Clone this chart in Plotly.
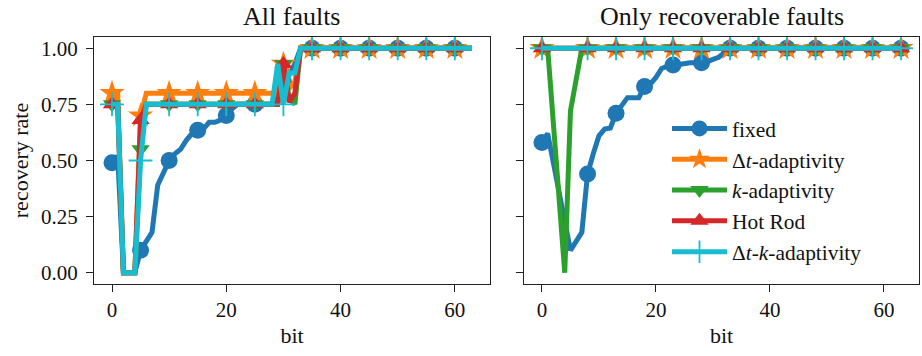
import plotly.graph_objects as go
from plotly.subplots import make_subplots

# ---- data ----
bits_all = list(range(64))
bits_rec = [0, 1, 4, 5, 7, 8, 9, 10, 11, 12, 13, 14, 15, 16, 17, 18, 19, 20, 21, 22,
            23, 24, 25, 26, 27, 28, 29, 30, 31, 32, 33, 34, 35, 36, 37, 38, 39, 40, 41, 42,
            43, 44, 45, 46, 47, 48, 49, 50, 51, 52, 53, 54, 55, 56, 57, 58, 59, 60, 61, 62, 63]

series_names = ["fixed", "Δ<i>t</i>-adaptivity", "<i>k</i>-adaptivity", "Hot Rod", "Δ<i>t</i>-<i>k</i>-adaptivity"]

all_fixed = [0.49, 0.52, 0.00, 0.00, 0.00, 0.10, 0.14, 0.18, 0.39, 0.45,
             0.50, 0.53, 0.55, 0.59, 0.62, 0.635, 0.64, 0.67, 0.67, 0.68,
             0.70, 0.73, 0.75, 0.75, 0.75, 0.75, 0.75, 0.75, 0.75, 0.78,
             0.85, 0.88, 0.93, 1.00, 1.00, 1.00, 1.00, 1.00, 1.00, 1.00,
             1.00, 1.00, 1.00, 1.00, 1.00, 1.00, 1.00, 1.00, 1.00, 1.00,
             1.00, 1.00, 1.00, 1.00, 1.00, 1.00, 1.00, 1.00, 1.00, 1.00,
             1.00, 1.00, 1.00, 1.00]
all_dt = [0.80, 0.80, 0.00, 0.00, 0.00, 0.70, 0.80, 0.80, 0.80, 0.80,
          0.80, 0.80, 0.80, 0.80, 0.80, 0.80, 0.80, 0.80, 0.80, 0.80,
          0.80, 0.80, 0.80, 0.80, 0.80, 0.80, 0.80, 0.80, 0.80, 0.80,
          0.93, 0.82, 0.85, 1.00, 1.00, 1.00, 1.00, 1.00, 1.00, 1.00,
          1.00, 1.00, 1.00, 1.00, 1.00, 1.00, 1.00, 1.00, 1.00, 1.00,
          1.00, 1.00, 1.00, 1.00, 1.00, 1.00, 1.00, 1.00, 1.00, 1.00,
          1.00, 1.00, 1.00, 1.00]
all_k = [0.75, 0.75, 0.00, 0.00, 0.00, 0.55, 0.75, 0.75, 0.75, 0.75,
         0.75, 0.75, 0.75, 0.75, 0.75, 0.75, 0.75, 0.75, 0.75, 0.75,
         0.75, 0.75, 0.75, 0.75, 0.75, 0.75, 0.75, 0.75, 0.75, 0.75,
         0.93, 0.78, 0.75, 1.00, 1.00, 1.00, 1.00, 1.00, 1.00, 1.00,
         1.00, 1.00, 1.00, 1.00, 1.00, 1.00, 1.00, 1.00, 1.00, 1.00,
         1.00, 1.00, 1.00, 1.00, 1.00, 1.00, 1.00, 1.00, 1.00, 1.00,
         1.00, 1.00, 1.00, 1.00]
all_hot = [0.75, 0.75, 0.00, 0.00, 0.00, 0.68, 0.75, 0.75, 0.75, 0.75,
           0.75, 0.75, 0.75, 0.75, 0.75, 0.75, 0.75, 0.75, 0.75, 0.75,
           0.75, 0.75, 0.75, 0.75, 0.75, 0.75, 0.75, 0.75, 0.75, 0.75,
           0.93, 0.76, 0.80, 1.00, 1.00, 1.00, 1.00, 1.00, 1.00, 1.00,
           1.00, 1.00, 1.00, 1.00, 1.00, 1.00, 1.00, 1.00, 1.00, 1.00,
           1.00, 1.00, 1.00, 1.00, 1.00, 1.00, 1.00, 1.00, 1.00, 1.00,
           1.00, 1.00, 1.00, 1.00]
all_dtk = [0.75, 0.75, 0.00, 0.00, 0.00, 0.50, 0.75, 0.75, 0.75, 0.75,
           0.75, 0.75, 0.75, 0.75, 0.75, 0.75, 0.75, 0.75, 0.75, 0.75,
           0.75, 0.75, 0.75, 0.75, 0.75, 0.75, 0.75, 0.75, 0.75, 0.93,
           0.75, 0.89, 0.89, 1.00, 1.00, 1.00, 1.00, 1.00, 1.00, 1.00,
           1.00, 1.00, 1.00, 1.00, 1.00, 1.00, 1.00, 1.00, 1.00, 1.00,
           1.00, 1.00, 1.00, 1.00, 1.00, 1.00, 1.00, 1.00, 1.00, 1.00,
           1.00, 1.00, 1.00, 1.00]

rec_fixed = [0.58, 0.62, 0.23, 0.10, 0.18, 0.44, 0.53, 0.61, 0.64, 0.645,
             0.71, 0.75, 0.78, 0.78, 0.78, 0.83, 0.84, 0.87, 0.91, 0.92,
             0.925, 0.93, 0.935, 0.935, 0.935, 0.935, 0.94, 0.95, 0.96, 0.98,
             1.00, 1.00, 1.00, 1.00, 1.00, 1.00, 1.00, 1.00, 1.00, 1.00,
             1.00, 1.00, 1.00, 1.00, 1.00, 1.00, 1.00, 1.00, 1.00, 1.00,
             1.00, 1.00, 1.00, 1.00, 1.00, 1.00, 1.00, 1.00, 1.00, 1.00,
             1.00]
rec_dt = [1.00, 1.00, 1.00, 1.00, 1.00, 1.00, 1.00, 1.00, 1.00, 1.00,
          1.00, 1.00, 1.00, 1.00, 1.00, 1.00, 1.00, 1.00, 1.00, 1.00,
          1.00, 1.00, 1.00, 1.00, 1.00, 1.00, 1.00, 1.00, 1.00, 1.00,
          1.00, 1.00, 1.00, 1.00, 1.00, 1.00, 1.00, 1.00, 1.00, 1.00,
          1.00, 1.00, 1.00, 1.00, 1.00, 1.00, 1.00, 1.00, 1.00, 1.00,
          1.00, 1.00, 1.00, 1.00, 1.00, 1.00, 1.00, 1.00, 1.00, 1.00,
          1.00]
rec_k = [1.00, 1.00, 0.00, 0.72, 1.00, 1.00, 1.00, 1.00, 1.00, 1.00,
         1.00, 1.00, 1.00, 1.00, 1.00, 1.00, 1.00, 1.00, 1.00, 1.00,
         1.00, 1.00, 1.00, 1.00, 1.00, 1.00, 1.00, 1.00, 1.00, 1.00,
         1.00, 1.00, 1.00, 1.00, 1.00, 1.00, 1.00, 1.00, 1.00, 1.00,
         1.00, 1.00, 1.00, 1.00, 1.00, 1.00, 1.00, 1.00, 1.00, 1.00,
         1.00, 1.00, 1.00, 1.00, 1.00, 1.00, 1.00, 1.00, 1.00, 1.00,
         1.00]
rec_hot = [1.00, 1.00, 1.00, 1.00, 1.00, 1.00, 1.00, 1.00, 1.00, 1.00,
           1.00, 1.00, 1.00, 1.00, 1.00, 1.00, 1.00, 1.00, 1.00, 1.00,
           1.00, 1.00, 1.00, 1.00, 1.00, 1.00, 1.00, 1.00, 1.00, 1.00,
           1.00, 1.00, 1.00, 1.00, 1.00, 1.00, 1.00, 1.00, 1.00, 1.00,
           1.00, 1.00, 1.00, 1.00, 1.00, 1.00, 1.00, 1.00, 1.00, 1.00,
           1.00, 1.00, 1.00, 1.00, 1.00, 1.00, 1.00, 1.00, 1.00, 1.00,
           1.00]
rec_dtk = [1.00, 1.00, 1.00, 1.00, 1.00, 1.00, 1.00, 1.00, 1.00, 1.00,
           1.00, 1.00, 1.00, 1.00, 1.00, 1.00, 1.00, 1.00, 1.00, 1.00,
           1.00, 1.00, 1.00, 1.00, 1.00, 1.00, 1.00, 1.00, 1.00, 1.00,
           1.00, 1.00, 1.00, 1.00, 1.00, 1.00, 1.00, 1.00, 1.00, 1.00,
           1.00, 1.00, 1.00, 1.00, 1.00, 1.00, 1.00, 1.00, 1.00, 1.00,
           1.00, 1.00, 1.00, 1.00, 1.00, 1.00, 1.00, 1.00, 1.00, 1.00,
           1.00]

x_ticks = [0, 20, 40, 60]
y_ticks = [0.0, 0.25, 0.5, 0.75, 1.0]

# ---- style ----
colors = ["#1f77b4", "#ff7f0e", "#2ca02c", "#d62728", "#17becf"]
symbols = ["circle", "star", "triangle-down", "triangle-up", "cross-thin"]
msizes = [17, 19, 16, 16, 17]
FONT = "Liberation Serif, Times New Roman, serif"
W, H = 922, 356

fig = make_subplots(rows=1, cols=2, shared_yaxes=True)

panels = [(1, bits_all, [all_fixed, all_dt, all_k, all_hot, all_dtk]),
          (2, bits_rec, [rec_fixed, rec_dt, rec_k, rec_hot, rec_dtk])]

for col, xs, ys_list in panels:
    for i, ys in enumerate(ys_list):
        # markers on every 5th point, like markevery=5
        sizes = [msizes[i] if j % 5 == 0 else 0 for j in range(len(xs))]
        fig.add_trace(go.Scatter(
            x=xs, y=ys, mode="lines+markers", showlegend=False,
            line=dict(color=colors[i], width=5),
            marker=dict(symbol=symbols[i], size=sizes, color=colors[i], opacity=1,
                        line=dict(color=colors[i], width=1.8 if i == 4 else 0)),
        ), row=1, col=col)

# legend-only entries
for i, name in enumerate(series_names):
    fig.add_trace(go.Scatter(
        x=[None], y=[None], mode="lines+markers", name=name, legendgroup=str(i),
        line=dict(color=colors[i], width=5),
        marker=dict(symbol=symbols[i], size=msizes[i], color=colors[i],
                    line=dict(color=colors[i], width=1.8 if i == 4 else 0)),
    ), row=1, col=2)

ax_common = dict(showline=True, mirror=True, linecolor="#222", linewidth=1.2,
                 ticks="outside", ticklen=7, tickwidth=1.2, tickcolor="#222",
                 showgrid=False, zeroline=False,
                 tickfont=dict(family=FONT, size=21, color="#111"))

y0, y1 = 1 - 284 / H, 1 - 37 / H
fig.update_layout(
    width=W, height=H, margin=dict(l=0, r=0, t=0, b=0),
    paper_bgcolor="white", plot_bgcolor="white",
    font=dict(family=FONT, size=21, color="#111"),
    xaxis=dict(domain=[94 / W, 490 / W], range=[-3.15, 66.15], tickvals=x_ticks,
               title=dict(text="bit", font=dict(size=22), standoff=6), **ax_common),
    xaxis2=dict(domain=[524 / W, 919 / W], range=[-3.15, 66.15], tickvals=x_ticks,
                title=dict(text="bit", font=dict(size=22), standoff=6), **ax_common),
    yaxis=dict(domain=[y0, y1], range=[-0.05, 1.05], tickvals=y_ticks, tickformat=".2f",
               ticklabelstandoff=4,
               title=dict(text="recovery rate", font=dict(size=22), standoff=6), **ax_common),
    yaxis2=dict(domain=[y0, y1], range=[-0.05, 1.05], tickvals=y_ticks,
                showticklabels=False, **ax_common),
    legend=dict(x=667 / W, y=1 - 108 / H, xanchor="left", yanchor="top",
                bgcolor="rgba(255,255,255,0.8)", borderwidth=0,
                font=dict(family=FONT, size=21.4, color="#111"),
                tracegroupgap=0, itemwidth=55),
    annotations=[
        dict(text="All faults", x=(94 + 490) / 2 / W, y=1 - 17 / H, xref="paper", yref="paper",
             xanchor="center", yanchor="middle", showarrow=False,
             font=dict(family=FONT, size=26, color="#111")),
        dict(text="Only recoverable faults", x=(524 + 919) / 2 / W, y=1 - 17 / H,
             xref="paper", yref="paper", xanchor="center", yanchor="middle", showarrow=False,
             font=dict(family=FONT, size=26, color="#111")),
    ],
)

# drop the default 8px page margin so the figure sits at the window origin
fig.write_html("out.html", config={"displayModeBar": False},
               post_script="document.body.style.margin='0';")
